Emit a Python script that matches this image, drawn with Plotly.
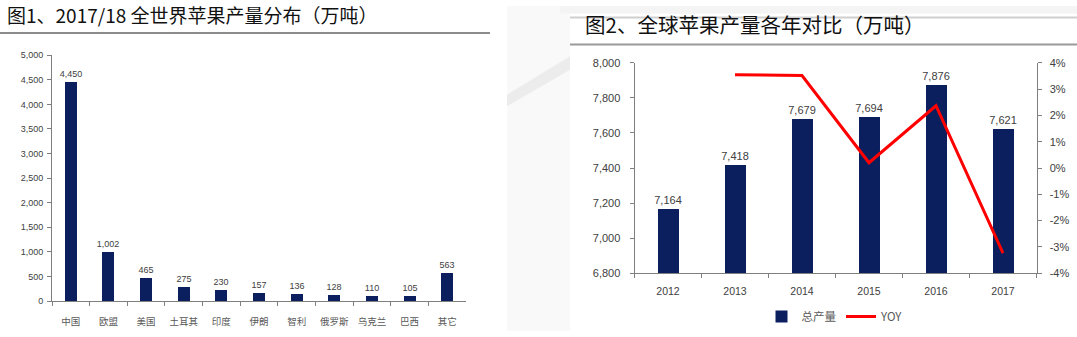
import plotly.graph_objects as go

# 2017/18 world apple output by producer (10k tonnes)
countries = ["中国", "欧盟", "美国", "土耳其", "印度", "伊朗", "智利", "俄罗斯", "乌克兰", "巴西", "其它"]
output_by_country = [4450, 1002, 465, 275, 230, 157, 136, 128, 110, 105, 563]

# Global apple output by year (10k tonnes) and year-on-year change (%)
years = ["2012", "2013", "2014", "2015", "2016", "2017"]
total_output = [7164, 7418, 7679, 7694, 7876, 7621]
yoy_years = ["2013", "2014", "2015", "2016", "2017"]
yoy_pct = [3.55, 3.52, 0.20, 2.37, -3.24]

left_ticks = list(range(0, 5001, 500))
right_ticks = list(range(6800, 8001, 200))
pct_ticks = list(range(-4, 5, 1))
pct_labels = [f"{v}%" for v in pct_ticks]

W, H = 1077, 337
NAVY = "#0B1F5E"
AXIS = "#7f7f7f"
TXT = "#404040"
NUM_FONT = "Liberation Sans"
CJK = "Noto Sans CJK SC"


def px(x):
    return x / W


def py(y):
    return 1 - y / H


fig = go.Figure()

fig.add_trace(go.Bar(
    x=countries, y=output_by_country, xaxis="x", yaxis="y",
    marker=dict(color=NAVY, line=dict(width=0)), width=0.32,
    texttemplate="%{y:,}", textposition="outside", cliponaxis=False,
    constraintext="none",
    textfont=dict(family=NUM_FONT, size=9, color=TXT),
    showlegend=False,
))

fig.add_trace(go.Bar(
    x=years, y=total_output, xaxis="x2", yaxis="y2", name="总产量",
    marker=dict(color=NAVY, line=dict(width=0)), width=0.31,
    texttemplate="%{y:,}", textposition="outside", cliponaxis=False,
    constraintext="none",
    textfont=dict(family=NUM_FONT, size=11, color=TXT),
))

fig.add_trace(go.Scatter(
    x=yoy_years, y=yoy_pct, xaxis="x2", yaxis="y3", name="YOY",
    mode="lines", line=dict(color="#FF0000", width=3),
))

axis_common = dict(
    showline=True, linecolor=AXIS, linewidth=1, showgrid=False, zeroline=False,
    ticks="outside", ticklen=4, tickcolor=AXIS, fixedrange=True,
)

fig.update_layout(
    width=W, height=H,
    margin=dict(l=0, r=0, t=0, b=0),
    paper_bgcolor="white", plot_bgcolor="rgba(0,0,0,0)",
    bargap=0,
    xaxis=dict(
        **axis_common, domain=[px(52), px(466)], anchor="y", type="category",
        tickson="boundaries", range=[-0.5, 10.5], tickangle=0, ticklabelstandoff=11,
        tickfont=dict(family=CJK, size=9.5, color="#595959"),
    ),
    yaxis=dict(
        **axis_common, domain=[py(306), py(51)], anchor="x", range=[0, 5000],
        tickvals=left_ticks, tickformat=",d", ticklabelstandoff=2,
        tickfont=dict(family=NUM_FONT, size=9, color=TXT),
    ),
    xaxis2=dict(
        **axis_common, domain=[px(634.5), px(1036.5)], anchor="y2", type="category",
        tickson="boundaries", range=[-0.5, 5.5], tickangle=0, ticklabelstandoff=8,
        tickfont=dict(family=NUM_FONT, size=10.5, color=TXT),
    ),
    yaxis2=dict(
        **axis_common, domain=[py(277), py(59)], anchor="x2", range=[6800, 8000],
        tickvals=right_ticks, tickformat=",d", ticklabelstandoff=7,
        tickfont=dict(family=NUM_FONT, size=11, color=TXT),
    ),
    yaxis3=dict(
        **axis_common, overlaying="y2", side="right", anchor="x2", range=[-4, 4],
        tickvals=pct_ticks, ticktext=pct_labels, ticklabelstandoff=6,
        tickfont=dict(family=NUM_FONT, size=11, color=TXT),
    ),
    legend=dict(
        orientation="h", x=px(835), xanchor="center", y=py(322), yanchor="middle",
        font=dict(family=CJK, size=11.5, color="#595959"),
        itemwidth=30, bgcolor="rgba(0,0,0,0)",
    ),
    showlegend=True,
)

# Panel headings
fig.add_annotation(
    text="图1、2017/18 全世界苹果产量分布（万吨）",
    xref="paper", yref="paper", x=px(5), y=py(9), xanchor="left", yanchor="middle",
    showarrow=False, font=dict(family=CJK, size=19, color="#111111"),
)
fig.add_annotation(
    text="图2、全球苹果产量各年对比（万吨）",
    xref="paper", yref="paper", x=px(583), y=py(19), xanchor="left", yanchor="middle",
    showarrow=False, font=dict(family=CJK, size=20.5, color="#111111"),
)

shapes = [
    # soft grey backdrop band between the two panels
    dict(type="path", xref="paper", yref="paper", layer="below",
         path=f"M {px(507)},{py(0)} L {px(570)},{py(0)} L {px(570)},{py(337)} L {px(507)},{py(337)} Z",
         fillcolor="#f9f9f9", line=dict(width=0)),
    dict(type="path", xref="paper", yref="paper", layer="below",
         path=f"M {px(507)},{py(92)} L {px(570)},{py(52)} L {px(570)},{py(66)} L {px(507)},{py(104)} Z",
         fillcolor="#ececec", line=dict(width=0)),
    dict(type="path", xref="paper", yref="paper", layer="below",
         path=f"M {px(560)},{py(0)} L {px(1077)},{py(0)} L {px(1077)},{py(8)} L {px(560)},{py(8)} Z",
         fillcolor="#f4f4f4", line=dict(width=0)),
    # heading rules
    dict(type="line", xref="paper", yref="paper", x0=0, x1=px(490), y0=py(28), y1=py(28),
         line=dict(color="#8c8c8c", width=2)),
    dict(type="line", xref="paper", yref="paper", x0=px(570), x1=1, y0=py(12), y1=py(12),
         line=dict(color="#cfcfcf", width=2)),
    dict(type="line", xref="paper", yref="paper", x0=px(570), x1=1, y0=py(40), y1=py(40),
         line=dict(color="#9a9a9a", width=2)),
]
fig.update_layout(shapes=shapes)

fig.write_html("out.html")
